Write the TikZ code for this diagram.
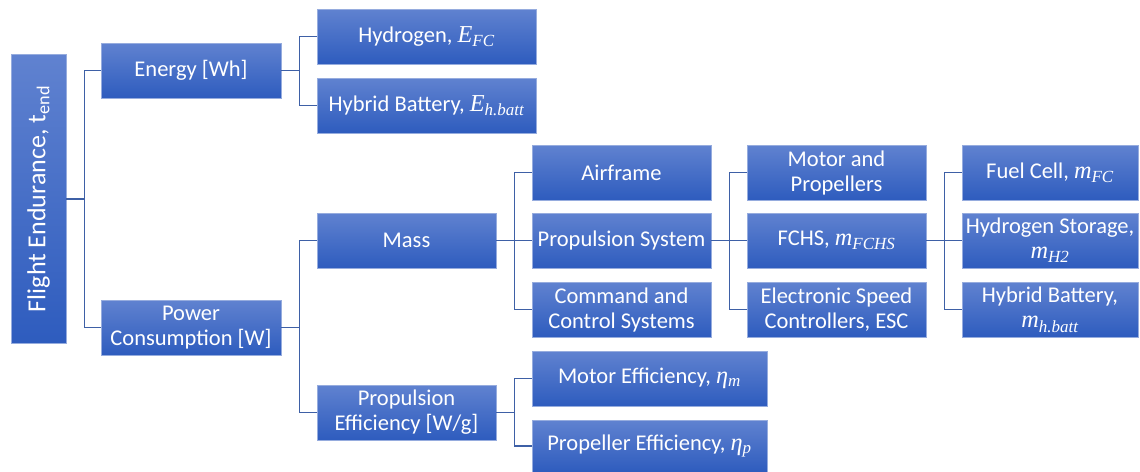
\documentclass[tikz,border=0pt]{standalone}
\usepackage{fontspec}
\setmainfont{Carlito}
\newfontfamily\varfont{Liberation Serif}[Scale=1.08]
\newcommand{\mv}[2]{{\varfont\itshape #1}\textsubscript{\varfont\itshape #2}}
\definecolor{boxtop}{RGB}{96,130,208}
\definecolor{boxbot}{RGB}{46,92,190}
\definecolor{boxedge}{RGB}{150,172,222}
\definecolor{linkc}{RGB}{62,96,166}
\tikzset{
  box/.style={rectangle, top color=boxtop, bottom color=boxbot, draw=boxedge, line width=0.6pt,
    text=white, align=center, inner sep=2pt, minimum height=55pt,
    font=\fontsize{22.5}{25}\selectfont},
  link/.style={draw=linkc, line width=1.2pt}
}
\begin{document}
\begin{tikzpicture}[x=1pt,y=-1pt]
\useasboundingbox (0,0) rectangle (1140,471);
% column 0
\node[box, minimum width=289pt, minimum height=55pt, rotate=90, font=\fontsize{26}{30}\selectfont] (root) at (38.5,199) {Flight Endurance, t\textsubscript{end}};
% column 1
\node[box, minimum width=180pt] (energy) at (191,70.5) {Energy [Wh]};
\node[box, minimum width=180pt] (power) at (191,327.5) {Power\\Consumption [W]};
% column 2
\node[box, minimum width=219pt] (hyd) at (426.5,36.5) {Hydrogen, \mv{E}{FC}};
\node[box, minimum width=219pt] (hybE) at (426.5,105.5) {Hybrid Battery, \mv{E}{h.batt}};
\node[box, minimum width=179pt] (mass) at (406.5,240.5) {Mass};
\node[box, minimum width=179pt] (peff) at (406.5,412.5) {Propulsion\\Efficiency [W/g]};
% column 3
\node[box, minimum width=179pt] (air) at (621.5,172.5) {Airframe};
\node[box, minimum width=179pt] (psys) at (621.5,240.5) {Propulsion System};
\node[box, minimum width=179pt] (cmd) at (621.5,309.5) {Command and\\Control Systems};
\node[box, minimum width=235pt] (meff) at (649.5,378.5) {Motor Efficiency, \mv{η}{m}};
\node[box, minimum width=235pt, minimum height=52pt] (preff) at (649.5,446) {Propeller Efficiency, \mv{η}{p}};
% column 4
\node[box, minimum width=179pt] (mp) at (836.5,172.5) {Motor and\\Propellers};
\node[box, minimum width=179pt] (fchs) at (836.5,240.5) {FCHS, \mv{m}{FCHS}};
\node[box, minimum width=179pt] (esc) at (836.5,309.5) {Electronic Speed\\Controllers, ESC};
% column 5
\node[box, minimum width=176pt] (fc) at (1050,172.5) {Fuel Cell, \mv{m}{FC}};
\node[box, minimum width=176pt] (h2) at (1050,240.5) {Hydrogen Storage,\\\mv{m}{H2}};
\node[box, minimum width=176pt] (hbm) at (1050,309.5) {Hybrid Battery,\\\mv{m}{h.batt}};
% connectors
\draw[link] (root.south) -- ++(18,0) |- (energy.west);
\draw[link] (root.south) -- ++(18,0) |- (power.west);
\draw[link] (energy.east) -- ++(18,0) |- (hyd.west);
\draw[link] (energy.east) -- ++(18,0) |- (hybE.west);
\draw[link] (power.east) -- ++(18,0) |- (mass.west);
\draw[link] (power.east) -- ++(18,0) |- (peff.west);
\draw[link] (mass.east) -- ++(18,0) |- (air.west);
\draw[link] (mass.east) -- (psys.west);
\draw[link] (mass.east) -- ++(18,0) |- (cmd.west);
\draw[link] (peff.east) -- ++(18,0) |- (meff.west);
\draw[link] (peff.east) -- ++(18,0) |- (preff.west);
\draw[link] (psys.east) -- ++(18,0) |- (mp.west);
\draw[link] (psys.east) -- (fchs.west);
\draw[link] (psys.east) -- ++(18,0) |- (esc.west);
\draw[link] (fchs.east) -- ++(18,0) |- (fc.west);
\draw[link] (fchs.east) -- (h2.west);
\draw[link] (fchs.east) -- ++(18,0) |- (hbm.west);
\end{tikzpicture}
\end{document}
